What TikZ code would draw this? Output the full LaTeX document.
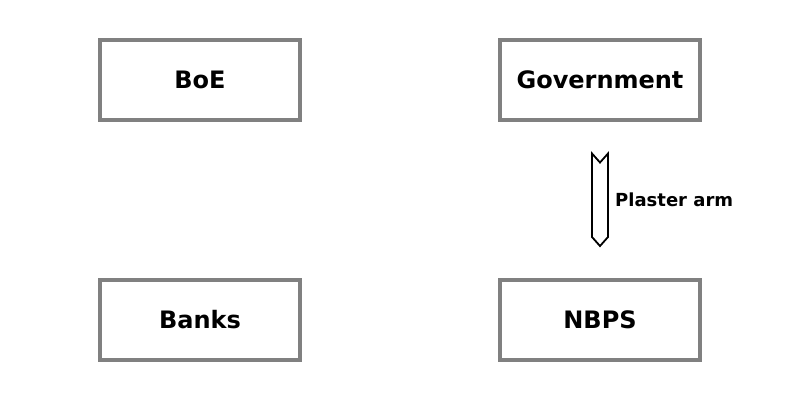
\documentclass[tikz,border=0pt]{standalone}
\usepackage{fontspec}
\setmainfont{DejaVu Sans}
\usetikzlibrary{calc}
\begin{document}
\begin{tikzpicture}[x=1pt,y=-1pt,
  box/.style={draw=gray,line width=3.5pt,fill=white,minimum width=200pt,minimum height=80pt,inner sep=0pt,font=\fontsize{24}{28}\selectfont\bfseries},
  lbl/.style={font=\fontsize{18}{21}\selectfont\bfseries,inner sep=0pt,anchor=west},
  shaft/.style={draw=black,line width=1.8pt,fill=white,line join=miter}]
\useasboundingbox (0,0) rectangle (800,400);
\node[box] (boe) at (200,80) {BoE};
\node[box] (gov) at (600,80) {Government};
\node[box] (banks) at (200,320) {Banks};
\node[box] (nbps) at (600,320) {NBPS};
\coordinate (top) at ($(gov.center)+(0,73.5)$);
\coordinate (bot) at ($(nbps.center)+(0,-74)$);
\draw[shaft] ($(top)+(-8,0)$) -- ($(top)+(0,9)$) -- ($(top)+(8,0)$) -- ($(bot)+(8,-9)$) -- (bot) -- ($(bot)+(-8,-9)$) -- cycle;
\node[lbl] (pl) at (615,200) {Plaster arm};
\end{tikzpicture}
\end{document}
